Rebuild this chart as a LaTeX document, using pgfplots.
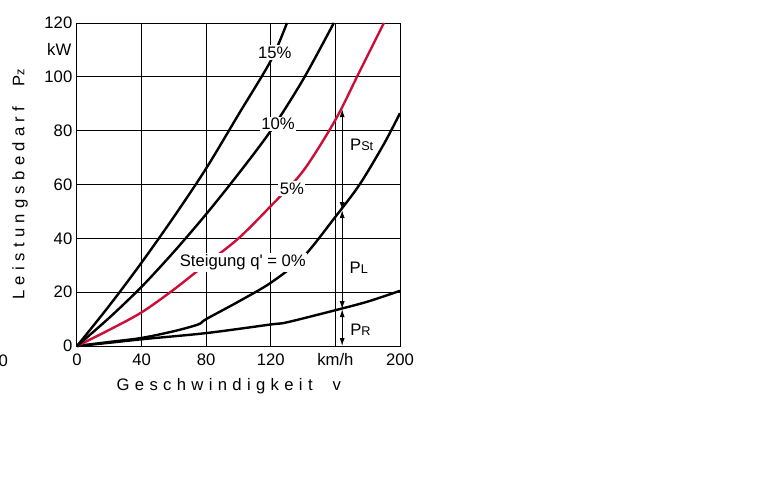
\documentclass[border=0pt]{standalone}
\usepackage{fontspec}
\setmainfont{Liberation Sans}
\newfontfamily\spaced[LetterSpace=32]{Liberation Sans}
\usepackage{pgfplots}
\pgfplotsset{compat=1.18}
\usetikzlibrary{arrows.meta}
\definecolor{curvered}{RGB}{205,15,55}
\newcommand{\lbl}{\fontsize{12.5}{15}\selectfont}

\begin{document}
\begin{tikzpicture}[x=0.75pt,y=0.75pt]
  \path[use as bounding box] (0,0) rectangle (768,480);
  \coordinate (origin) at (77,134);
  \begin{axis}[
    at={(origin)}, anchor=south west,
    scale only axis, width=242.25pt, height=242.25pt,
    xmin=0, xmax=200, ymin=0, ymax=120,
    xtick={0,40,80,120,160,200},
    xticklabels={0,40,80,120,km/h,200},
    ytick={0,20,40,60,80,100,120},
    grid=major, major grid style={black, line width=0.75pt},
    axis line style={black, line width=0.75pt},
    major tick length=0pt,
    tick label style={font=\lbl},
    xticklabel style={yshift=-2pt},
    /pgf/number format/assume math mode=true,
    clip=false,
  ]
    % rolling resistance P_R
    \addplot[black, line width=1.8pt, smooth] coordinates {
      (0,0) (20,1.2) (40,2.5) (80,4.8) (120,8) (130,8.8) (160,13.3) (180,16.5) (200,20.5)};
    % 0 %
    \addplot[black, line width=1.8pt, smooth, tension=0.5] coordinates {
      (0,0) (20,1.5) (40,3) (60,5.5) (75,8) (80,10) (100,16.5) (120,23.5) (140,33)
      (160,48) (175,60) (190,75) (200,86.5)};
    % 5 %
    \addplot[curvered, line width=1.8pt, smooth] coordinates {
      (0,0) (20,6) (40,12.5) (60,21) (80,30.5) (100,40) (120,52) (140,65) (160,84)
      (175,102) (190,120)};
    % 10 %
    \addplot[black, line width=1.8pt, smooth] coordinates {
      (0,0) (20,10.5) (40,22) (60,35) (80,49) (100,64) (120,80) (140,99) (159,120)};
    % 15 %
    \addplot[black, line width=1.8pt, smooth] coordinates {
      (0,0) (20,15) (40,31) (60,48) (80,66) (100,86) (120,106) (130,120)};

    \node[fill=white, inner sep=1pt, font=\lbl] at (axis cs:122.5,109) {15\%};
    \node[fill=white, inner sep=1pt, font=\lbl] at (axis cs:124.5,82.5) {10\%};
    \node[fill=white, inner sep=1pt, font=\lbl] at (axis cs:133,58.5) {5\%};
    \node[fill=white, inner sep=1pt, font=\lbl] at (axis cs:102.7,31) {Steigung q\textquotesingle{} = 0\%};

    % power components
    \draw[black, line width=0.75pt, {Latex[length=6pt,width=3.8pt]}-{Latex[length=6pt,width=3.8pt]}]
      (axis cs:164.2,0) -- (axis cs:164.2,13.7);
    \draw[black, line width=0.75pt, {Latex[length=6pt,width=3.8pt]}-{Latex[length=6pt,width=3.8pt]}]
      (axis cs:164.2,13.7) -- (axis cs:164.2,50.5);
    \draw[black, line width=0.75pt, {Latex[length=6pt,width=3.8pt]}-{Latex[length=6pt,width=3.8pt]}]
      (axis cs:164.2,50.5) -- (axis cs:164.2,88);
    \node[font=\lbl] at (axis cs:176.3,74.6) {P{\fontsize{9.5}{11}\selectfont St}};
    \node[font=\lbl] at (axis cs:174.5,29.2) {P{\fontsize{9.5}{11}\selectfont L}};
    \node[font=\lbl] at (axis cs:175.5,6.2) {P{\fontsize{9.5}{11}\selectfont R}};

    \node[font=\lbl] at (axis cs:-11,110) {kW};
    \node[font=\lbl] at (axis cs:-45.6,-5.6) {0};
    \node[font=\lbl] at (axis cs:94,-15) {\spaced Geschwindigkeit\ \ v};
    \node[font=\lbl, rotate=90] at (axis cs:-35.3,60) {\spaced Leistungsbedarf\ \ P{\fontsize{9.5}{11}\selectfont z}};
  \end{axis}
\end{tikzpicture}
\end{document}
